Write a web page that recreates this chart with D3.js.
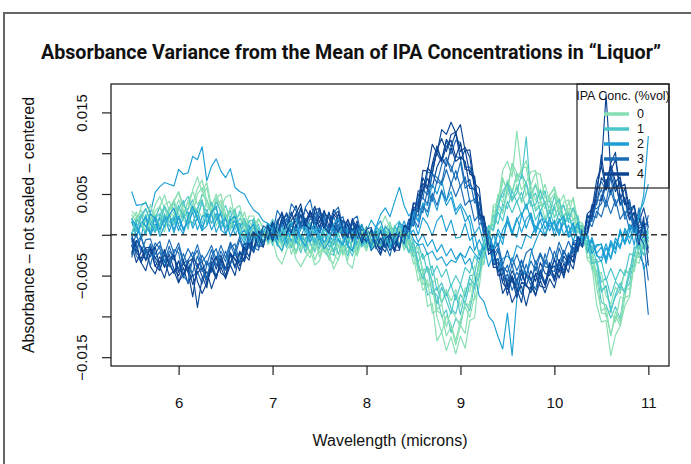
<!DOCTYPE html>
<html>
<head>
<meta charset="utf-8">
<script src="https://cdn.jsdelivr.net/npm/d3@7"></script>
<style>
  body { margin: 0; background: #fff; }
  svg { display: block; }
</style>
</head>
<body>
<svg id="chart" width="691" height="464"></svg>
<script>
// wavelength grid (microns)
const wavelength = [
  5.50, 5.55, 5.60, 5.65, 5.70, 5.75, 5.80, 5.85, 5.90, 5.95,
  6.00, 6.05, 6.10, 6.15, 6.20, 6.25, 6.30, 6.35, 6.40, 6.45,
  6.50, 6.55, 6.60, 6.65, 6.70, 6.75, 6.80, 6.85, 6.90, 6.95,
  7.00, 7.05, 7.10, 7.15, 7.20, 7.25, 7.30, 7.35, 7.40, 7.45,
  7.50, 7.55, 7.60, 7.65, 7.70, 7.75, 7.80, 7.85, 7.90, 7.95,
  8.00, 8.05, 8.10, 8.15, 8.20, 8.25, 8.30, 8.35, 8.40, 8.45,
  8.50, 8.55, 8.60, 8.65, 8.70, 8.75, 8.80, 8.85, 8.90, 8.95,
  9.00, 9.05, 9.10, 9.15, 9.20, 9.25, 9.30, 9.35, 9.40, 9.45,
  9.50, 9.55, 9.60, 9.65, 9.70, 9.75, 9.80, 9.85, 9.90, 9.95,
  10.00, 10.05, 10.10, 10.15, 10.20, 10.25, 10.30, 10.35, 10.40, 10.45,
  10.50, 10.55, 10.60, 10.65, 10.70, 10.75, 10.80, 10.85, 10.90, 10.95,
  11.00];

// centered absorbance in units of 1e-3, five spectra per IPA concentration
const ipa0 = [
  [2.5, 1.5, 3.4, 4.1, 2.5, 1.8, 3.5, 4.9, 2.9, 4.1,
   5.3, 3.5, 3.1, 5.5, 7.1, 5.2, 6.4, 3.5, 5.0, 3.4,
   4.6, 4.9, 2.0, 2.5, 0.5, 2.3, 2.3, 0.0, -0.9, 0.8,
   1.1, -0.7, -2.1, -0.2, -0.8, -2.3, -0.4, -2.2, -1.0, -3.1,
   -1.5, -0.7, -3.0, -3.5, -1.4, -1.9, -3.1, -0.5, -2.0, -0.9,
   -2.0, 0.2, -0.5, -1.8, 0.5, 1.6, -0.5, -1.3, 0.0, -2.0,
   -2.6, -5.7, -4.7, -8.8, -8.4, -13.0, -11.9, -14.2, -12.5, -14.6,
   -12.4, -13.9, -10.5, -10.2, -4.7, -2.3, -1.3, 3.6, 4.0, 7.9,
   9.0, 7.1, 12.7, 7.8, 9.1, 6.1, 7.6, 7.4, 4.5, 4.8,
   5.9, 3.8, 4.9, 2.5, 4.6, 1.7, 1.4, -3.0, -3.8, -8.6,
   -10.7, -10.5, -14.8, -12.3, -11.2, -8.7, -7.6, -3.2, -3.5, -1.2,
   -1.1],
  [0.1, 1.9, 3.0, 1.7, 0.7, 2.9, 3.5, 1.8, 3.2, 4.3,
   2.5, 2.1, 4.2, 5.3, 3.7, 4.7, 5.8, 2.9, 3.3, 4.2,
   1.7, 2.8, 3.0, 0.7, 1.9, 0.2, 1.6, 0.4, -1.4, 0.2,
   -0.7, 0.8, -0.9, 0.0, -2.4, -0.7, -0.1, -2.1, -2.8, -0.8,
   -2.7, -1.2, -0.6, -2.4, -3.1, -1.1, -2.1, -0.6, -2.6, -0.8,
   -0.4, -2.0, 0.2, 0.9, -1.1, -0.4, 1.1, -1.3, -0.1, -1.2,
   -3.6, -3.2, -6.1, -5.5, -9.6, -9.3, -9.7, -12.4, -11.2, -13.5,
   -11.1, -12.1, -8.1, -7.9, -6.4, -1.6, -0.7, 2.9, 3.1, 6.6,
   5.8, 8.7, 6.5, 8.1, 8.3, 5.1, 6.3, 4.5, 6.2, 4.1,
   5.1, 2.6, 4.0, 4.3, 1.9, 2.4, -0.8, -0.8, -4.3, -4.9,
   -9.6, -9.7, -12.3, -10.0, -11.1, -7.7, -7.4, -3.5, -1.5, -2.4,
   -2.3],
  [1.8, 2.8, 1.0, 1.9, 3.7, 1.7, 1.3, 3.6, 4.1, 2.6,
   4.3, 2.6, 4.0, 2.6, 5.0, 5.8, 3.5, 2.8, 4.3, 3.5,
   1.8, 3.4, 2.5, 1.0, 2.8, 0.8, -0.1, 1.9, 0.9, -0.6,
   0.7, -1.3, -0.1, -1.0, 0.3, -2.3, -0.6, -1.1, -2.3, -0.3,
   -2.2, -1.1, -2.9, -0.7, -1.4, -2.4, -0.1, -1.9, -2.3, -0.4,
   0.3, -1.1, -1.6, 0.6, -0.8, 1.3, -0.8, 0.2, -1.9, -0.6,
   -1.3, -4.6, -4.2, -6.4, -5.8, -9.2, -8.5, -11.3, -9.2, -10.1,
   -11.3, -8.3, -8.7, -5.1, -4.8, -3.2, 0.8, 1.4, 5.0, 3.9,
   6.7, 5.4, 7.1, 7.7, 4.8, 6.0, 4.2, 5.6, 3.9, 4.6,
   3.0, 4.5, 2.1, 3.2, 3.2, 0.2, 1.0, -1.7, -2.1, -6.1,
   -6.4, -10.1, -9.2, -10.7, -7.6, -7.8, -4.3, -4.5, -1.7, -1.3,
   -0.7],
  [-0.1, 2.3, 1.3, 0.1, 2.1, 2.5, 1.0, 0.4, 2.7, 2.3,
   3.3, 1.8, 1.2, 3.5, 3.1, 2.1, 4.2, 3.2, 1.1, 2.5,
   2.6, 0.5, 2.6, 0.8, -0.1, 1.7, 0.7, -1.1, 0.7, -0.7,
   0.9, 0.1, -1.5, 0.3, -1.2, 0.4, -1.8, -0.7, 0.1, -1.8,
   -0.7, -2.2, -0.2, -1.9, -1.1, -2.5, -0.4, -0.6, -1.9, 0.4,
   -1.5, 0.4, -0.6, -1.4, 1.2, -0.5, 0.6, 0.8, -1.7, -0.6,
   -2.3, -1.5, -4.8, -4.1, -5.9, -5.3, -8.3, -6.7, -8.1, -6.7,
   -8.8, -6.5, -7.0, -3.8, -4.0, -1.3, 1.2, 0.7, 3.2, 2.6,
   5.2, 4.0, 6.2, 3.9, 5.0, 5.4, 3.1, 4.1, 2.0, 3.6,
   2.2, 3.5, 1.2, 2.8, 2.0, 0.3, 1.4, -1.6, -1.7, -5.0,
   -4.6, -7.5, -8.5, -6.4, -7.2, -4.3, -4.7, -2.1, -2.8, -0.4,
   -1.3],
  [2.9, 2.3, 1.5, 0.5, 1.6, 3.7, 4.7, 3.2, 1.9, 4.1,
   5.2, 3.0, 1.9, 3.7, 5.7, 6.7, 4.2, 2.6, 4.5, 5.0,
   2.5, 0.9, 3.2, 3.6, 1.2, -0.3, 1.0, 2.0, 0.8, -1.2,
   -0.6, -2.8, -3.6, -1.9, -0.9, -3.0, -3.9, -2.8, -1.8, -3.7,
   -3.2, -1.0, -2.2, -4.2, -3.0, -1.3, -3.5, -4.1, -1.3, 0.2,
   0.8, -0.9, -1.5, 1.0, 2.3, 0.8, -0.7, 0.9, -1.1, 0.3,
   -1.2, -4.2, -6.8, -6.0, -6.2, -10.1, -12.0, -9.9, -11.0, -13.0,
   -10.4, -8.8, -10.1, -7.5, -3.4, -2.1, -1.5, 3.4, 3.4, 7.0,
   5.2, 8.8, 7.6, 5.5, 6.4, 7.7, 7.9, 4.3, 3.2, 4.9,
   5.6, 3.3, 2.1, 3.9, 4.4, 1.0, 0.9, -2.8, -2.8, -6.5,
   -9.3, -8.9, -12.4, -9.4, -10.7, -6.5, -6.7, -3.4, -1.3, -2.4,
   -0.6]
];
const ipa1 = [
  [2.0, 0.6, 2.0, 3.2, 1.4, 2.0, 3.5, 1.5, 3.3, 3.9,
   1.8, 3.8, 4.7, 3.1, 3.0, 5.0, 4.3, 2.4, 4.5, 2.6,
   3.6, 1.8, 1.0, 2.9, 1.7, 0.2, 2.0, 0.0, -0.9, 0.7,
   -1.3, 0.3, 0.5, -1.2, -0.5, -2.2, 0.0, -0.8, -2.2, -1.2,
   -0.5, -2.0, -2.8, -1.0, -0.5, -2.3, -1.4, -2.6, -0.3, -0.6,
   -1.6, 0.5, -0.2, -1.7, 0.5, -0.2, -1.0, 0.8, -0.3, -2.2,
   -1.3, -4.4, -4.2, -7.4, -6.9, -7.4, -10.1, -9.2, -12.0, -10.3,
   -10.9, -8.3, -9.3, -6.1, -3.6, -3.6, 0.6, 1.2, 4.8, 4.6,
   6.5, 5.1, 7.5, 6.9, 12.0, 4.8, 6.1, 4.2, 5.4, 2.6,
   4.8, 2.6, 3.6, 1.7, 3.3, 1.8, -0.8, -0.7, -4.0, -4.4,
   -8.3, -8.6, -10.2, -8.8, -10.3, -6.6, -6.0, -2.5, -2.7, -0.9,
   -0.2],
  [0.1, 1.5, 2.5, 0.9, 2.7, 0.7, 2.4, 3.5, 1.5, 2.3,
   3.6, 1.9, 3.2, 4.3, 2.0, 4.0, 2.8, 4.0, 1.8, 2.9,
   1.9, 3.0, 0.6, 2.0, 1.3, 0.0, 1.7, -0.2, 0.9, -1.0,
   0.8, -1.4, 0.1, 0.6, -1.5, -0.6, -2.2, -0.3, -0.9, -2.1,
   0.0, -0.9, -2.2, -2.5, -0.5, -1.1, -2.6, -0.4, 0.1, -1.5,
   -0.4, -1.6, 0.8, -0.6, -0.9, 1.0, 0.5, -1.4, 0.1, -0.9,
   -2.7, -2.0, -4.4, -4.0, -7.3, -6.4, -8.4, -7.0, -9.0, -9.7,
   -7.3, -8.4, -5.9, -6.6, -3.2, -2.7, 1.0, 1.3, 3.7, 2.9,
   5.7, 4.5, 5.8, 4.2, 6.4, 4.4, 5.1, 2.9, 4.1, 4.1,
   2.1, 3.4, 3.6, 1.5, 1.8, 2.2, -0.7, -0.7, -3.5, -3.2,
   -6.7, -6.4, -9.1, -7.6, -6.6, -6.9, -4.1, -3.9, -1.1, -1.7,
   -0.2],
  [1.7, 0.4, 1.0, 2.5, 0.3, 2.0, 2.6, 0.9, 2.2, 1.6,
   3.3, 2.5, 1.3, 3.2, 2.2, 4.1, 1.5, 2.9, 3.2, 1.3,
   2.4, 0.6, 2.3, 0.9, 2.0, -0.1, 0.3, 1.3, -1.0, 0.6,
   -1.0, 0.5, -0.1, -1.6, 0.4, -1.1, -0.2, -2.1, 0.0, -0.8,
   -1.7, 0.0, -1.5, -0.5, -2.4, -0.7, -0.1, -1.7, -1.2, 0.5,
   -1.3, -0.2, 0.7, -1.3, 0.5, -0.3, -1.2, 0.7, -0.9, 0.1,
   -0.9, -3.3, -2.3, -4.6, -3.8, -6.8, -5.9, -7.5, -6.1, -8.0,
   -6.1, -7.6, -5.0, -4.9, -1.9, -2.3, -0.3, 2.4, 1.3, 3.8,
   3.2, 5.4, 4.0, 5.2, 3.1, 5.2, 2.9, 3.6, 3.9, 1.7,
   3.4, 1.5, 2.4, 2.8, 0.5, 1.6, -0.1, 0.2, -3.2, -3.0,
   -5.8, -5.3, -7.5, -5.7, -6.6, -4.4, -4.8, -1.5, -1.8, -0.2,
   -1.6],
  [0.1, 1.9, 1.3, 0.1, 1.8, 1.0, 0.3, 2.6, 1.0, 2.3,
   1.3, 2.7, 0.7, 3.3, 2.3, 1.4, 3.1, 1.4, 2.3, 0.6,
   2.6, 0.8, 1.7, -0.1, 1.6, 0.9, -0.8, 0.9, -0.3, 1.0,
   0.4, -1.1, 0.7, -0.6, -1.6, 0.2, -0.3, -1.5, 0.5, -1.3,
   0.1, -1.1, -1.9, -0.3, 0.2, -1.5, -1.0, 0.3, -1.8, -0.2,
   0.3, -1.5, 0.1, 0.7, -0.7, -1.2, 1.0, 0.2, -1.3, -0.1,
   -2.1, -1.0, -3.0, -2.2, -5.0, -3.8, -5.2, -4.2, -6.3, -5.0,
   -6.1, -4.0, -4.7, -2.6, -3.5, -0.6, 1.1, 0.5, 2.8, 1.7,
   4.1, 2.7, 4.2, 2.4, 3.5, 4.2, 1.8, 3.0, 1.5, 3.0,
   1.1, 2.7, 1.3, 2.6, 0.4, 1.2, 1.0, -1.7, -1.3, -3.4,
   -3.2, -5.6, -4.1, -5.6, -4.2, -5.0, -2.3, -2.6, -0.1, -1.1,
   0.6],
  [-0.4, 0.6, 2.4, 3.2, 1.8, 0.4, 1.1, 3.5, 2.5, 1.2,
   3.2, 4.2, 2.1, 1.2, 3.3, 4.3, 1.2, 2.4, 4.0, 2.9,
   0.9, 2.2, 3.1, 0.5, -0.6, 1.7, 1.8, -0.2, -1.3, 0.7,
   1.9, 0.6, -1.1, 1.0, 1.6, -0.6, -1.4, 0.6, 1.5, -0.7,
   -1.3, 0.8, -0.4, -2.1, 0.1, 1.0, -1.5, -2.0, -0.1, 0.9,
   0.1, -1.9, -1.0, 1.0, 0.4, -1.7, 1.0, 1.7, -0.9, -2.1,
   -0.8, -3.8, -5.4, -3.9, -5.7, -8.5, -6.4, -8.1, -9.7, -7.2,
   -9.8, -7.2, -5.3, -6.2, -5.1, -1.0, 1.1, 0.5, 3.5, 5.3,
   6.3, 4.2, 5.1, 7.5, 6.3, 3.5, 3.7, 5.4, 3.7, 1.8,
   3.7, 4.3, 1.4, 1.9, 3.3, 1.9, -1.1, -0.2, -3.5, -3.4,
   -7.0, -6.2, -9.5, -7.3, -5.9, -7.1, -4.9, -1.6, -1.3, -2.5,
   0.4]
];
const ipa2 = [
  [5.3, 3.6, 3.7, 3.9, 2.7, 5.2, 5.9, 6.4, 6.2, 6.0,
   8.0, 7.4, 7.6, 9.6, 9.2, 10.8, 6.6, 8.4, 9.3, 7.8,
   7.0, 8.1, 5.8, 5.3, 5.0, 3.9, 3.0, 2.6, 1.7, 1.4,
   0.9, -0.4, 1.3, -0.9, 0.6, -0.6, 1.5, 0.4, -0.9, 0.8,
   -1.2, 0.6, 0.2, -1.0, 1.0, -0.5, -1.4, 0.8, 0.2, -0.7,
   1.0, -0.6, -1.1, 0.7, 0.2, -1.2, 1.1, 0.1, 1.7, 0.2,
   1.9, 0.0, 2.1, 1.3, -0.1, 1.7, 2.4, 0.4, 1.8, -0.4,
   -0.3, 1.4, -0.7, 0.0, -2.5, -0.9, -2.0, 0.1, -1.5, 0.6,
   1.8, 0.3, 2.1, 0.3, 1.9, 2.7, 0.6, 1.8, -0.1, 1.9,
   0.5, 2.0, -0.1, 1.2, -0.8, 1.1, -0.1, -1.8, -0.3, -2.3,
   -1.5, -3.2, -1.0, -1.8, 0.4, -1.2, 0.4, 1.2, -0.4, 1.4,
   1.2],
  [0.1, 1.4, -0.2, 2.1, 1.3, 0.3, 2.1, 0.9, 2.4, 0.2,
   2.3, 0.5, 2.0, 1.4, 3.0, 0.9, 2.3, 2.6, 0.3, 1.7,
   0.8, 2.0, 0.0, 1.1, 1.5, -0.8, 0.4, -0.6, 0.9, -0.3,
   1.1, -0.6, 0.3, 1.1, -1.0, 0.8, -0.2, -0.8, 1.4, 0.5,
   -0.8, 1.2, -0.6, -1.2, 0.6, 0.9, -1.0, 0.3, 0.8, -1.2,
   0.5, -1.0, 1.1, 0.2, -0.7, 0.9, -0.9, 1.0, 0.8, -0.1,
   0.6, -0.9, 0.1, -1.4, -0.6, -2.1, -1.2, -2.6, -1.7, -3.0,
   -2.2, -3.6, -2.9, -4.8, -7.5, -8.2, -10.0, -10.7, -12.5, -14.0,
   -9.6, -14.8, -7.9, -4.2, -5.1, -2.3, -0.8, 0.6, -0.2, 1.4,
   1.4, 0.0, 1.8, 0.0, 1.2, -1.0, 0.1, -1.3, -0.6, -2.6,
   -2.8, -1.1, -3.0, -0.8, -1.7, 0.8, -0.4, 1.0, -0.7, 0.9,
   -0.5],
  [1.6, -0.1, 1.3, 2.2, -0.1, 1.3, 0.6, 2.4, 0.4, 2.1,
   0.5, 2.2, 2.8, 0.8, 2.1, 0.5, 2.6, 1.4, 2.6, 0.8,
   2.1, -0.2, 1.2, 1.4, -0.5, 1.2, -0.4, 0.2, -1.1, 1.2,
   -0.8, 0.6, 1.2, -1.0, 0.5, 1.1, -0.5, 1.4, -0.3, -0.9,
   1.0, 0.2, -1.0, 1.1, -0.6, -1.2, 0.6, 0.4, -1.2, 0.9,
   0.4, 1.8, 0.9, 2.5, 3.3, 2.2, 4.1, 5.8, 3.6, 2.3,
   3.1, 1.7, 3.8, 2.2, 4.7, 3.0, 5.3, 3.6, 4.6, 2.5,
   3.5, 1.6, 2.4, 0.1, 1.0, -1.1, 0.4, -1.6, 0.7, -0.5,
   1.6, 0.0, 1.8, 2.7, 0.8, 2.5, 0.2, 1.8, 2.0, 0.5,
   1.8, 0.4, 2.0, -0.3, 0.7, 1.1, -1.0, -0.1, -1.9, -1.2,
   -1.2, -2.9, -0.7, -1.7, 0.2, -1.0, 1.3, 0.4, 2.1, 4.8,
   12.1],
  [0.2, -0.3, 1.6, 1.1, 0.1, 2.3, 0.7, 1.9, 2.4, 0.6,
   2.2, 0.8, 1.4, 2.8, 0.6, 2.2, 2.6, 0.6, 1.8, 2.6,
   0.1, 1.4, 1.7, -0.1, 0.6, -1.0, 1.1, -0.3, 0.6, -0.9,
   0.3, 1.1, -0.8, -0.2, 1.4, -0.9, 0.7, 1.0, -0.9, 0.3,
   0.8, -1.1, 0.4, 0.9, -0.7, -1.3, 0.8, -0.3, 1.2, -0.8,
   -1.0, 0.7, -0.3, -1.1, 1.0, 0.4, -0.6, 1.5, 0.1, 1.3,
   -0.6, -1.3, -1.1, -2.4, -2.0, -3.1, -2.7, -3.8, -3.1, -3.4,
   -2.3, -2.8, -1.4, -2.3, -3.0, -1.4, -3.9, -2.4, -4.5, -2.9,
   -2.6, -3.3, -1.3, -1.7, 0.0, -0.4, 1.1, 0.6, 1.7, 1.0,
   1.6, -0.1, 1.7, 0.2, 1.5, -0.6, -0.1, -2.2, -0.7, -2.4,
   -3.3, -1.6, -2.8, -0.4, -1.4, 0.5, -1.1, 0.6, -0.6, -4.2,
   -3.1],
  [2.0, 1.0, -0.4, 0.4, 2.6, 1.9, -0.2, 1.1, 2.4, 3.3,
   1.1, 0.1, 2.2, 3.5, 2.0, 0.5, 1.1, 2.8, 3.5, 0.6,
   0.1, 1.8, 2.3, 0.0, -1.0, 0.7, 1.3, -0.9, 0.3, 1.4,
   0.6, -1.2, -1.9, -0.2, 1.3, 2.0, -0.5, -1.4, 0.6, 1.3,
   -0.3, -1.7, -0.9, 1.3, 2.0, 0.4, -1.3, -2.0, 0.4, 1.3,
   -0.5, -1.6, 0.9, 1.7, -0.2, -1.4, -0.6, 1.5, 0.9, -0.5,
   2.7, 1.6, 3.9, 3.6, 6.2, 5.0, 6.7, 4.2, 5.3, 3.0,
   3.8, 2.8, 1.5, -1.9, -0.6, -1.9, 0.0, -1.9, 0.2, -1.2,
   2.3, 0.3, -0.3, 2.3, 3.8, 1.9, 0.2, 2.9, 0.7, 2.1,
   -0.2, 1.6, 2.3, -0.3, 0.1, 1.5, -1.0, 0.1, -2.3, -1.4,
   -1.1, -3.5, -1.2, -2.3, 0.7, -0.9, 1.2, -1.3, 2.7, 3.9,
   6.2]
];
const ipa3 = [
  [-0.7, -2.6, -3.3, -1.9, -1.7, -3.2, -4.2, -2.4, -3.2, -4.7,
   -3.2, -5.3, -3.2, -5.1, -4.5, -6.0, -3.7, -3.3, -5.1, -3.6,
   -4.3, -2.5, -4.1, -2.0, -3.2, -0.7, -1.6, -1.9, 0.6, -0.3,
   1.6, -0.2, 1.7, 2.4, 1.1, 0.9, 3.2, 1.7, 2.7, 1.0,
   2.7, 1.1, 2.8, 0.5, 1.9, 2.2, -0.2, 1.4, 0.0, 1.1,
   -1.2, 0.1, 0.2, -1.7, 0.1, -1.9, -0.6, -1.6, 1.1, 1.0,
   1.9, 5.0, 4.4, 7.7, 7.5, 10.5, 9.2, 11.5, 9.9, 11.6,
   11.3, 8.3, 8.3, 6.9, 2.4, 1.8, 0.0, -3.6, -3.0, -5.7,
   -4.8, -6.8, -5.5, -7.3, -5.1, -5.6, -6.7, -4.3, -5.8, -4.4,
   -5.6, -3.6, -4.3, -2.2, -3.4, -1.0, -1.5, 2.3, 2.3, 5.5,
   6.5, 5.5, 8.2, 5.8, 6.3, 3.7, 4.3, 0.9, -2.4, -3.6,
   -9.8],
  [-2.3, -0.7, -1.5, -3.0, -1.1, -2.9, -2.1, -3.9, -2.0, -2.8,
   -4.2, -2.3, -3.9, -4.6, -2.6, -4.5, -3.2, -4.6, -2.6, -3.5,
   -2.0, -3.7, -2.0, -3.4, -1.0, -1.7, 0.1, -1.3, -1.2, 1.1,
   -0.3, 1.8, -0.1, 1.8, 1.6, 0.3, 2.5, 1.3, 0.7, 2.8,
   1.0, 2.4, 0.2, 2.3, 0.6, 1.7, -0.2, 1.7, -0.5, -0.1,
   0.9, -1.1, -0.2, -1.8, 0.0, -1.2, -1.9, 0.6, -0.4, 1.5,
   2.9, 2.3, 5.6, 4.9, 7.5, 6.3, 8.6, 9.5, 7.7, 9.6,
   9.4, 6.3, 6.8, 3.9, 4.0, 0.6, 0.2, -3.2, -2.9, -4.8,
   -3.7, -5.9, -4.6, -5.6, -3.6, -5.6, -3.9, -5.6, -3.1, -4.4,
   -3.1, -4.3, -1.9, -3.3, -1.5, -2.1, 1.0, 0.3, 3.2, 3.2,
   3.8, 6.3, 4.9, 6.5, 3.6, 4.2, 1.8, 2.6, 0.6, -0.7,
   1.0],
  [-0.4, -2.1, -0.3, -1.9, -2.7, -1.0, -1.7, -3.4, -1.4, -3.1,
   -1.5, -3.5, -3.1, -2.1, -4.2, -2.5, -3.7, -1.8, -3.8, -2.0,
   -3.3, -1.2, -2.6, -0.6, -2.2, -0.7, -1.9, 0.2, 0.8, -0.7,
   1.3, -0.6, 1.3, 2.0, 0.4, 0.9, 2.4, 0.4, 2.0, 1.6,
   0.3, 1.8, 2.2, 0.1, 1.3, -0.4, 1.4, -0.1, 1.3, -0.6,
   0.3, -1.4, 0.4, -1.0, -1.6, 0.4, -1.2, 0.5, -0.8, 1.2,
   1.1, 3.6, 2.7, 5.6, 4.1, 6.6, 6.1, 8.0, 6.2, 7.9,
   5.9, 7.1, 4.0, 4.4, 3.2, -0.3, -0.2, -2.5, -1.6, -3.8,
   -4.6, -2.8, -4.4, -3.1, -5.0, -3.2, -4.4, -2.4, -3.9, -4.1,
   -2.0, -3.4, -1.9, -3.2, -0.8, -1.3, 0.9, 0.0, 2.4, 2.1,
   4.9, 3.4, 5.4, 3.6, 4.8, 1.9, 2.7, 0.5, 1.1, 1.6,
   -1.7],
  [-1.5, 0.1, -2.1, -0.6, -0.5, -2.4, -1.3, -2.4, -0.6, -2.3,
   -1.0, -3.2, -1.7, -2.8, -1.2, -3.3, -2.5, -1.3, -3.1, -1.3,
   -2.8, -0.9, -2.0, -0.2, -2.0, -0.4, 0.4, -1.6, 0.6, -0.5,
   1.1, -0.4, 1.8, 0.2, 1.7, -0.2, 1.3, 2.0, -0.2, 1.6,
   0.2, 2.0, 0.4, -0.2, 1.9, 0.0, 1.2, -0.8, 1.1, -0.2,
   0.8, -1.0, -0.7, 0.6, -1.5, 0.1, -0.3, -1.3, 0.9, 0.2,
   2.0, 0.9, 3.5, 2.8, 5.1, 3.6, 5.5, 4.1, 6.3, 4.7,
   6.1, 3.6, 4.3, 1.7, 2.5, 0.2, 0.5, -2.0, -1.0, -3.7,
   -1.9, -3.9, -2.4, -4.1, -2.2, -1.7, -3.6, -2.2, -3.6, -1.5,
   -3.1, -0.9, -2.4, -0.8, -2.2, -0.2, -0.9, 1.7, 1.0, 2.9,
   2.2, 4.2, 2.6, 4.3, 1.9, 2.9, 0.6, 1.8, 0.0, -1.1,
   -5.6],
  [-2.8, -1.0, -0.2, -2.4, -3.7, -1.5, -0.8, -3.3, -3.9, -1.8,
   -2.2, -5.0, -5.8, -2.9, -1.9, -4.2, -5.5, -2.6, -1.7, -3.9,
   -4.3, -1.6, -1.1, -3.4, -2.1, 0.3, -2.0, -0.8, 1.1, 0.7,
   0.1, 3.0, 2.0, 1.0, 3.8, 3.0, 0.8, 3.4, 4.3, 1.7,
   3.3, 1.1, 0.3, 2.7, 3.4, 1.0, -0.1, 1.8, 2.3, -0.3,
   0.4, -1.9, -1.2, 0.5, -1.2, -2.6, 0.2, -0.1, -1.1, 1.7,
   1.1, 4.3, 4.5, 3.8, 7.5, 7.0, 6.3, 9.2, 8.4, 6.7,
   8.9, 5.7, 6.2, 5.4, 1.2, 1.8, -1.1, -3.3, -1.9, -4.4,
   -5.6, -3.6, -6.3, -3.1, -4.9, -6.2, -3.2, -5.2, -2.3, -4.3,
   -4.5, -1.6, -3.3, -3.7, -0.8, -0.6, -1.3, 2.3, 1.6, 4.1,
   5.6, 3.9, 7.1, 3.5, 5.0, 2.3, 3.9, 0.3, 3.3, -0.3,
   2.4]
];
const ipa4 = [
  [-1.2, -3.4, -2.1, -1.7, -3.9, -4.8, -3.2, -3.1, -5.0, -4.4,
   -5.9, -4.0, -6.0, -4.8, -8.9, -5.3, -4.5, -6.6, -4.9, -4.0,
   -5.4, -3.7, -5.0, -2.3, -2.4, -3.1, -0.3, -1.4, -1.4, 1.0,
   -0.5, 1.7, 2.5, 1.0, 2.3, 3.6, 1.3, 3.2, 2.1, 3.5,
   1.5, 3.0, 1.0, 3.1, 2.0, 0.5, 1.8, 0.4, 1.7, -0.6,
   0.9, -1.4, -0.6, -2.3, -0.5, -1.9, 0.0, -1.5, 0.9, 1.1,
   3.9, 3.9, 7.9, 7.8, 11.1, 10.0, 12.9, 12.3, 13.8, 12.5,
   13.5, 10.3, 10.4, 6.3, 5.7, 0.6, -0.6, -4.0, -4.0, -7.2,
   -6.0, -8.3, -7.1, -6.3, -8.7, -6.3, -7.4, -5.6, -7.1, -5.4,
   -6.5, -4.1, -5.0, -3.1, -4.2, -1.1, -1.0, 2.6, 3.1, 6.7,
   8.3, 17.2, 7.8, 9.2, 5.9, 6.2, 3.1, 3.6, 0.8, 1.1,
   1.6],
  [-2.5, -1.0, -3.4, -2.1, -1.9, -3.8, -4.4, -2.4, -3.6, -4.7,
   -3.2, -5.0, -3.9, -6.1, -4.7, -4.0, -6.0, -4.1, -5.4, -3.1,
   -5.0, -3.4, -2.2, -3.8, -2.8, -0.7, -2.0, 0.1, -1.5, 0.7,
   1.5, 0.0, 1.5, 2.7, 1.0, 1.7, 3.3, 1.1, 2.8, 1.7,
   3.1, 1.4, 0.8, 2.5, 1.9, 0.1, 1.9, 0.4, -0.4, 1.2,
   -1.1, 0.7, -1.2, -1.8, -0.2, -0.9, -2.1, 0.3, -0.2, 1.9,
   2.0, 5.4, 5.3, 8.2, 7.5, 10.4, 11.8, 10.2, 12.3, 12.6,
   10.2, 10.7, 9.5, 5.6, 4.7, 0.3, -0.4, -3.7, -3.4, -5.9,
   -6.7, -5.3, -7.7, -5.8, -6.1, -7.1, -4.8, -6.3, -6.5, -4.4,
   -3.8, -5.3, -3.5, -4.6, -1.7, -1.9, 0.8, 0.7, 3.7, 3.7,
   7.0, 6.1, 8.6, 6.5, 7.1, 3.8, 3.9, 1.3, 2.2, 0.1,
   -0.9],
  [-0.4, -2.2, -2.9, -1.6, -1.5, -3.9, -2.7, -4.0, -2.4, -4.2,
   -5.0, -3.5, -4.5, -7.6, -3.7, -3.3, -5.3, -3.8, -5.3, -2.9,
   -4.3, -2.2, -3.9, -2.1, -3.3, -0.9, -1.6, 0.5, -1.1, 0.5,
   0.9, -0.2, 2.2, 1.1, 2.8, 0.9, 2.5, 0.8, 2.8, 2.2,
   0.8, 2.7, 2.0, 0.7, 2.6, 0.7, -0.1, 1.7, 0.0, 0.7,
   0.5, -1.4, 0.4, -1.4, -2.1, -0.3, -0.7, -1.7, 1.2, 0.6,
   3.4, 3.2, 6.3, 5.6, 8.4, 10.0, 8.9, 10.8, 11.6, 9.5,
   11.3, 8.0, 7.9, 6.5, 2.6, 1.9, -1.9, -1.9, -4.5, -4.0,
   -6.4, -5.0, -7.0, -4.7, -6.3, -6.6, -4.7, -4.9, -6.2, -3.8,
   -5.2, -3.1, -4.7, -2.5, -2.7, -0.5, -0.9, 2.4, 1.9, 4.8,
   9.8, 5.5, 7.3, 5.3, 6.6, 3.7, 4.0, 1.0, 1.5, 3.3,
   0.9],
  [-2.2, -0.7, -1.5, -3.2, -1.6, -2.8, -3.6, -1.8, -3.8, -2.5,
   -4.6, -3.1, -4.6, -2.9, -3.6, -5.1, -6.5, -2.6, -4.2, -2.5,
   -4.2, -2.2, -3.1, -3.4, -1.0, -1.2, -2.2, 0.4, 0.2, -0.6,
   1.6, 0.2, 1.9, 0.1, 1.8, 2.6, 0.9, 1.5, 3.0, 0.8,
   2.3, 0.6, 2.7, 1.1, 0.3, 1.8, 1.2, -0.5, 1.3, -0.4,
   -0.8, 0.6, -1.7, -0.4, -1.5, -0.1, -1.8, 0.3, 0.5, 0.1,
   3.2, 2.8, 5.4, 6.9, 5.8, 8.3, 9.5, 8.4, 10.7, 9.0,
   9.5, 9.0, 5.7, 5.6, 1.9, 2.3, -1.3, -1.4, -4.5, -4.1,
   -6.0, -4.4, -5.6, -4.2, -6.3, -4.4, -5.7, -3.4, -4.7, -5.0,
   -3.0, -4.6, -2.6, -3.5, -1.0, -1.7, 0.5, 0.0, 3.3, 4.3,
   4.2, 6.8, 5.3, 6.6, 3.8, 4.6, 1.9, 2.8, -1.5, 2.2,
   -3.8],
  [-0.1, -1.5, -3.4, -4.4, -2.2, -1.5, -3.9, -5.3, -3.0, -2.4,
   -5.8, -4.8, -3.3, -2.9, -5.7, -7.2, -5.9, -3.6, -2.7, -4.7,
   -5.1, -2.4, -2.9, -4.4, -1.5, -2.7, 0.3, -0.2, -1.5, 1.2,
   -0.8, 1.3, 2.8, 0.9, 0.2, 2.6, 3.8, 1.2, 0.7, 3.1,
   3.2, 0.9, 0.2, 2.4, 2.9, 0.6, -0.4, 2.0, 0.6, -1.0,
   0.7, 0.9, -1.5, -2.5, -0.5, 0.1, -1.9, -1.9, 1.1, 0.7,
   3.9, 3.5, 7.0, 5.8, 8.7, 10.9, 9.1, 11.7, 10.8, 12.5,
   9.2, 10.4, 7.4, 7.2, 2.5, 1.9, -2.4, -1.8, -5.0, -4.8,
   -7.4, -5.1, -6.6, -8.3, -4.8, -5.4, -7.5, -4.4, -6.1, -3.4,
   -5.7, -3.0, -5.3, -2.6, -3.3, -0.2, -1.5, 2.2, 2.3, 5.7,
   8.5, 5.5, 8.8, 10.1, 4.4, 5.7, 2.5, 3.5, 0.2, 1.3,
   -2.2]
];

const concLabels = ["0", "1", "2", "3", "4"];
const concColors = ["#86deb2", "#4bc5c8", "#1c9fd4", "#1a6cb6", "#0c4492"];
const xTicks = [6, 7, 8, 9, 10, 11];
const yTicks = [-0.015, -0.01, -0.005, 0, 0.005, 0.01, 0.015];
const yLabelled = [-0.015, -0.005, 0.005, 0.015];
const unit = 1e-3;

const svg = d3.select("#chart");
const W = 691, H = 464;
const plot = { left: 111, right: 669, top: 84, bottom: 366 };

// spectra drawn replicate by replicate so colours interleave
const groups = [ipa0, ipa1, ipa2, ipa3, ipa4];
const spectra = [];
for (let r = 0; r < 5; r++) {
  groups.forEach((g, gi) => {
    spectra.push({ conc: gi, values: g[r].map(v => v * unit) });
  });
}

// R style 4% padding around the data range
const xExt = d3.extent(wavelength);
const xPad = (xExt[1] - xExt[0]) * 0.04;
const yExt = d3.extent(spectra.flatMap(s => s.values));
const yPad = (yExt[1] - yExt[0]) * 0.04;

const x = d3.scaleLinear().domain([xExt[0] - xPad, xExt[1] + xPad]).range([plot.left, plot.right]);
const y = d3.scaleLinear().domain([yExt[0] - yPad, yExt[1] + yPad]).range([plot.bottom, plot.top]);

// outer frame of the screenshot
svg.append("path")
  .attr("d", `M4,${H} V13 H${W}`)
  .attr("fill", "none")
  .attr("stroke", "#666")
  .attr("stroke-width", 2);

svg.append("text")
  .attr("x", 351)
  .attr("y", 59)
  .attr("text-anchor", "middle")
  .style("font-family", "Roboto, 'Noto Sans', sans-serif")
  .style("font-weight", "bold")
  .style("font-size", "19.7px")
  .attr("fill", "#111")
  .text("Absorbance Variance from the Mean of IPA Concentrations in “Liquor”");

const line = d3.line()
  .x((d, i) => x(wavelength[i]))
  .y(d => y(d));

svg.append("g")
  .selectAll("path")
  .data(spectra)
  .join("path")
  .attr("d", d => line(d.values))
  .attr("fill", "none")
  .attr("stroke", d => concColors[d.conc])
  .attr("stroke-width", 1.15)
  .attr("stroke-linejoin", "round");

// zero reference
svg.append("line")
  .attr("x1", plot.left).attr("x2", plot.right)
  .attr("y1", y(0)).attr("y2", y(0))
  .attr("stroke", "#333")
  .attr("stroke-width", 1.5)
  .attr("stroke-dasharray", "6,4");

svg.append("rect")
  .attr("x", plot.left).attr("y", plot.top)
  .attr("width", plot.right - plot.left)
  .attr("height", plot.bottom - plot.top)
  .attr("fill", "none")
  .attr("stroke", "#222")
  .attr("stroke-width", 1.3);

const tickFont = "'Liberation Sans', Arial, sans-serif";

const xAxis = svg.append("g")
  .attr("transform", `translate(0,${plot.bottom})`)
  .call(d3.axisBottom(x).tickValues(xTicks).tickSize(9).tickPadding(22).tickFormat(d3.format("d")));
xAxis.select(".domain").remove();
xAxis.selectAll("line").attr("stroke", "#222").attr("stroke-width", 1.2);
xAxis.selectAll("text").style("font-family", tickFont).style("font-size", "15px").attr("fill", "#111");

const yAxis = svg.append("g")
  .attr("transform", `translate(${plot.left},0)`)
  .call(d3.axisLeft(y).tickValues(yTicks).tickSize(9)
    .tickFormat(d => yLabelled.some(v => Math.abs(v - d) < 1e-9) ? d3.format(".3f")(d).replace("-", "\u2212") : ""));
yAxis.select(".domain").remove();
yAxis.selectAll("line").attr("stroke", "#222").attr("stroke-width", 1.2);
yAxis.selectAll("text")
  .attr("x", null).attr("dy", null)
  .attr("text-anchor", "middle")
  .attr("transform", "translate(-24,0) rotate(-90)")
  .style("font-family", tickFont).style("font-size", "15px").attr("fill", "#111");

svg.append("text")
  .attr("x", (plot.left + plot.right) / 2)
  .attr("y", 446)
  .attr("text-anchor", "middle")
  .style("font-family", tickFont)
  .style("font-size", "16px")
  .attr("fill", "#111")
  .text("Wavelength (microns)");

svg.append("text")
  .attr("transform", `translate(34,${(plot.top + plot.bottom) / 2}) rotate(-90)`)
  .attr("text-anchor", "middle")
  .style("font-family", tickFont)
  .style("font-size", "16px")
  .attr("fill", "#111")
  .text("Absorbance \u2013 not scaled \u2013 centered");

// legend, top right, no background
const lg = svg.append("g");
lg.append("rect")
  .attr("x", 577).attr("y", plot.top)
  .attr("width", plot.right - 577).attr("height", 104)
  .attr("fill", "none")
  .attr("stroke", "#222")
  .attr("stroke-width", 1.2);
lg.append("text")
  .attr("x", 623).attr("y", 100)
  .attr("text-anchor", "middle")
  .style("font-family", tickFont).style("font-size", "12.5px")
  .attr("fill", "#111")
  .text("IPA Conc. (%vol)");
const items = lg.selectAll("g.item")
  .data(concLabels)
  .join("g")
  .attr("class", "item")
  .attr("transform", (d, i) => `translate(0,${114 + i * 15})`);
items.append("line")
  .attr("x1", 604).attr("x2", 629)
  .attr("stroke", (d, i) => concColors[i])
  .attr("stroke-width", 3.5);
items.append("text")
  .attr("x", 637).attr("dy", "0.35em")
  .style("font-family", tickFont).style("font-size", "12.5px")
  .attr("fill", "#111")
  .text(d => d);
</script>
</body>
</html>
